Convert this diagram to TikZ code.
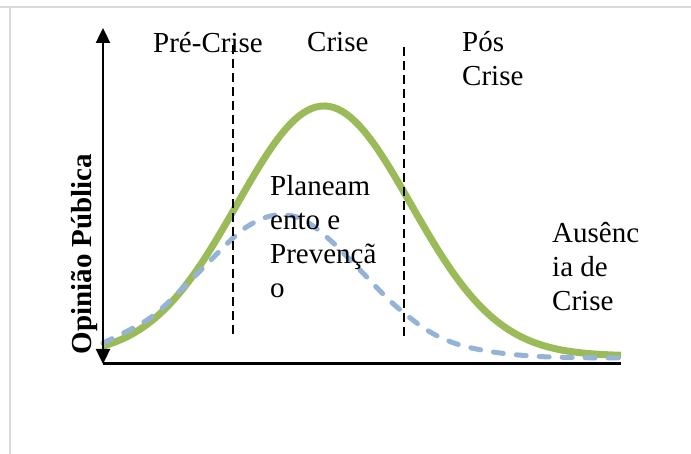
\documentclass[tikz,border=0pt]{standalone}
\usepackage{fontspec}
\setmainfont{Liberation Serif}
\usetikzlibrary{
	arrows.meta,
	positioning,
	calc
}
\definecolor{verdeCrise}{HTML}{9BBB59}
\definecolor{azulPrev}{HTML}{95B3D7}

\begin{document}
\begin{tikzpicture}[
  x=1pt, y=-1pt,
  rotulo/.style={anchor=base west, align=left, inner sep=0pt,
    font=\fontsize{29}{34}\selectfont},
  eixo/.style={line width=2.4pt},
  fase/.style={line width=1.5pt, dash pattern=on 9pt off 5pt},
  crise/.style={line width=7pt, color=verdeCrise},
  prevencao/.style={line width=5pt, color=azulPrev, line cap=round,
    dash pattern=on 10pt off 13pt},
  moldura/.style={line width=1.5pt, color=black!15}
]
\useasboundingbox (0,0) rectangle (691,454);
\draw[moldura] (0,7) -- (691,7) (10,7) -- (10,454);

\coordinate (origem) at (103,364);
\coordinate (topo) at (103,28);
\coordinate (fim) at (621,364);

\draw[crise] plot[domain=103:621, samples=120]
  (\x, {356-250*exp(-0.5*((\x-324)/87)^2)});
\draw[prevencao] plot[smooth, tension=0.55] coordinates {
  (103,343) (150,318) (190,281) (233,238) (255,222) (277,215)
  (302,219) (330,240) (360,270) (385,296) (404,313) (430,332)
  (460,345) (500,353) (550,357) (621,358)};

\node[rotulo] (precrise) at (153,53) {Pré-Crise};
\node[rotulo] (crise) at (307,52) {Crise};
\node[rotulo] (poscrise) at (462,86) {Pós\\Crise};
\node[rotulo] (planeamento) at (270,298) {Planeam\\ento e\\Prevençã\\o};
\node[rotulo] (ausencia) at (552,311) {Ausênc\\ia de\\Crise};
\node[font=\fontsize{29}{34}\selectfont\bfseries, rotate=90, inner sep=0pt]
  (opiniao) at (84,254) {Opinião Pública};

\coordinate (corte1a) at (233,45);
\coordinate (corte1b) at (233,336);
\coordinate (corte2a) at (404,47);
\coordinate (corte2b) at (404,337);
\draw[fase] (corte1a) -- (corte1b);
\draw[fase] (corte2a) -- (corte2b);

\draw[eixo, {Triangle[width=14pt,length=15pt]}-{Triangle[width=14pt,length=15pt]}]
  (topo) -- (origem);
\draw[eixo, line width=3pt] (origem) -- (fim);
\end{tikzpicture}
\end{document}
